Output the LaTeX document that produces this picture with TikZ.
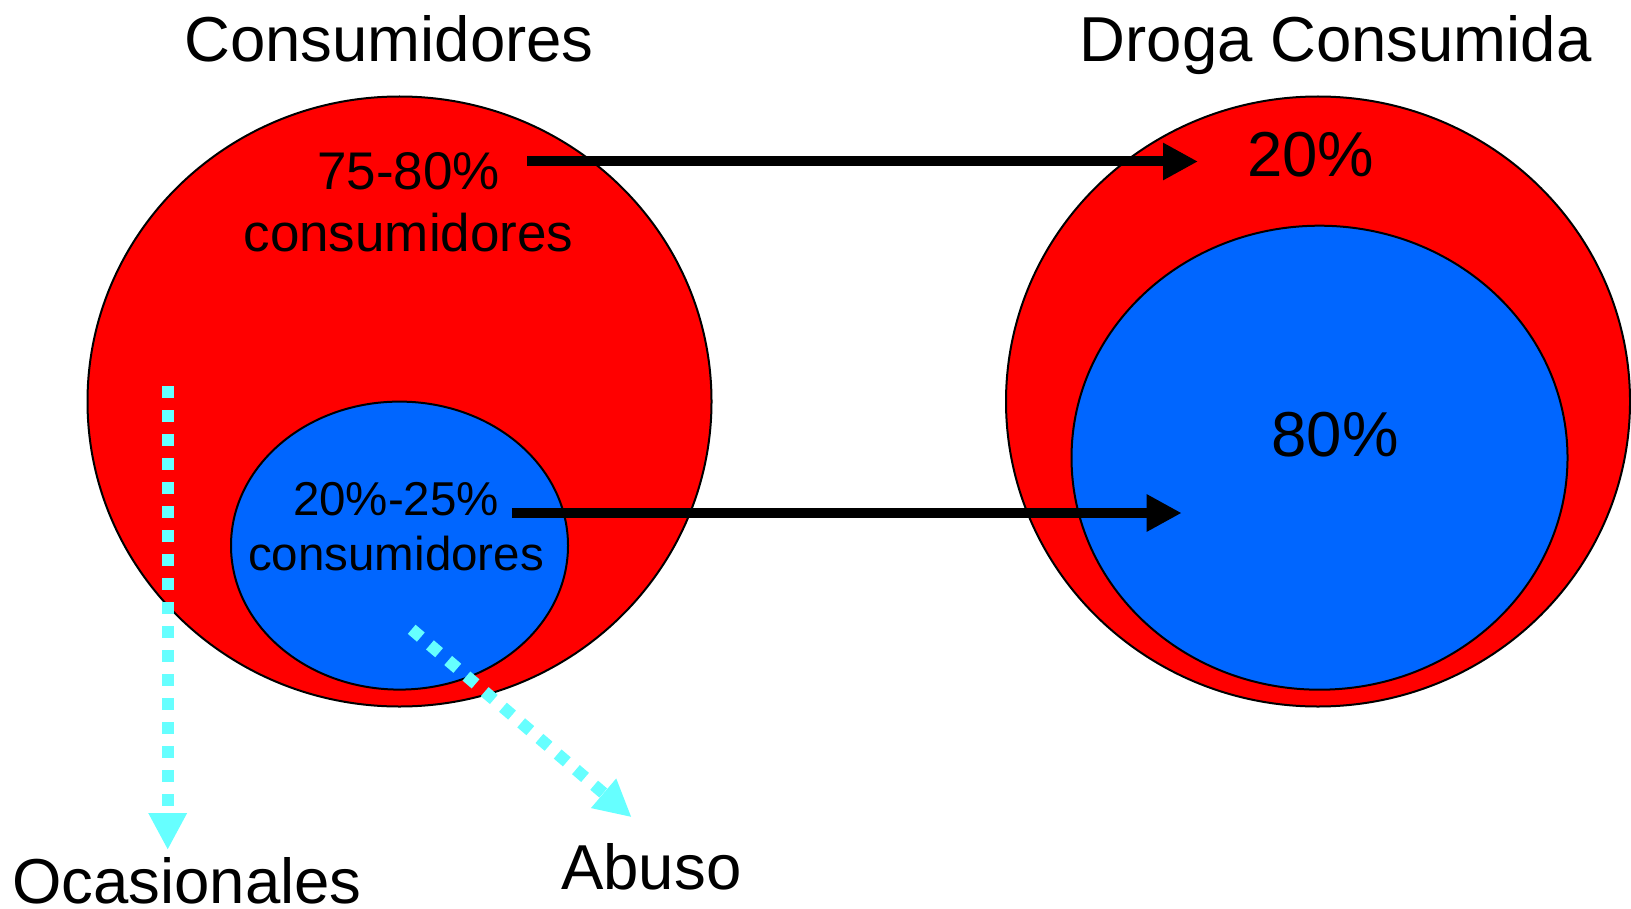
\documentclass[tikz,border=0pt]{standalone}
\usepackage{fontspec}
\setmainfont{Liberation Sans}
\usetikzlibrary{arrows.meta,shapes.geometric}
\definecolor{setred}{HTML}{FF0000}
\definecolor{setblue}{HTML}{0066FF}
\definecolor{dotcyan}{HTML}{66FFFF}
\tikzset{
  blob/.style={ellipse, draw=black, line width=1pt, inner sep=0pt},
  bigtext/.style={inner sep=0pt, anchor=base, font=\fontsize{31.75pt}{38pt}\selectfont},
  midtext/.style={inner sep=0pt, anchor=base, align=center, font=\fontsize{26.5pt}{30.85pt}\selectfont},
  smalltext/.style={inner sep=0pt, anchor=base, align=center, font=\fontsize{23.75pt}{27.5pt}\selectfont},
  bigarrow/.style={draw=black, line width=5pt, -{Triangle[length=17.5pt,width=17.5pt]}},
  dotarrow/.style={draw=dotcyan, line width=6pt, dash pattern=on 6pt off 6pt, -{Triangle[length=18.5pt,width=18pt]}}
}
\begin{document}
\begin{tikzpicture}[x=0.5pt,y=-0.5pt]
  \useasboundingbox (0,0) rectangle (1631,909);
  % sets
  \node[blob, fill=setred, minimum width=312pt, minimum height=305pt] (usersall) at (399.5,401.5) {};
  \node[blob, fill=setblue, minimum width=168.5pt, minimum height=144pt] (usersheavy) at (399.5,545.6) {};
  \node[blob, fill=setred, minimum width=312pt, minimum height=305pt] (drugall) at (1318,401.5) {};
  \node[blob, fill=setblue, minimum width=248pt, minimum height=232pt] (drugheavy) at (1319.5,457.7) {};
  % titles
  \node[bigtext] (userstitle) at (389,61.5) {Consumidores};
  \node[bigtext] (drugtitle) at (1335.7,61.5) {Droga Consumida};
  % shares (base = last line)
  \node[midtext] (lightshare) at (408.5,251.7) {75-80\%\\consumidores};
  \node[smalltext] (heavyshare) at (396,570) {20\%-25\%\\consumidores};
  \node[bigtext] (lightdrug) at (1310.8,176.7) {20\%};
  \node[bigtext] (heavydrug) at (1335,456.7) {80\%};
  \node[bigtext, text depth=0pt] (occasional) at (186.8,903) {Ocasionales};
  \node[bigtext] (abuse) at (651.3,889.3) {Abuso};
  % links
  \coordinate (toptail) at (527.4,161.5);
  \coordinate (tophead) at (1198,161.5);
  \coordinate (lowtail) at (511.8,513);
  \coordinate (lowhead) at (1181.7,513);
  \draw[bigarrow] (toptail) -- (tophead);
  \draw[bigarrow] (lowtail) -- (lowhead);
  % dotted pointers
  \coordinate (occtail) at (167.7,386);
  \coordinate (occhead) at (167.7,850);
  \coordinate (abutail) at (411.7,629.3);
  \coordinate (abuhead) at (631.7,817.3);
  \draw[dotarrow] (occtail) -- (occhead);
  \draw[dotarrow] (abutail) -- (abuhead);
\end{tikzpicture}
\end{document}
